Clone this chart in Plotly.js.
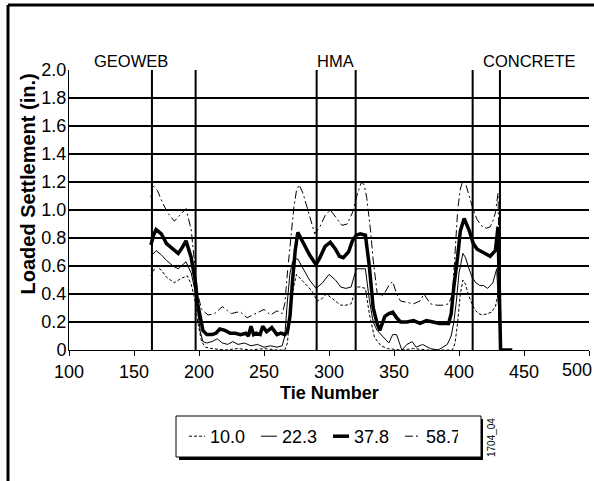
<!DOCTYPE html>
<html><head><meta charset="utf-8">
<script src="https://cdn.plot.ly/plotly-3.0.1.min.js"></script>
<style>html,body{margin:0;padding:0;background:#fff}#c{width:594px;height:481px}</style>
</head><body><div id="c"></div>
<script>
const seriesNames = ["10.0", "22.3", "37.8", "58.7"];
const tie10 = [163,167,171,175,181,186,191,194,197,199,202,205,210,220,230,240,250,260,266,268,270,272,275,279,283,287,291,295,298,302,306,309,313,317,321,324,328,331,335,340,345,355,365,375,385,392,395,397,399,401,403,405,407,410,412,415,418,422,425,428,430,432];
const val10 = [0.53,0.60,0.57,0.52,0.48,0.51,0.53,0.47,0.35,0.20,0.06,0.02,0.01,0.0,0.01,0.0,0.01,0.0,0.0,0.05,0.25,0.42,0.54,0.50,0.46,0.42,0.35,0.37,0.40,0.37,0.34,0.32,0.32,0.33,0.45,0.45,0.44,0.26,0.09,0.03,0.01,0.0,0.01,0.0,0.0,0.0,0.0,0.05,0.20,0.40,0.50,0.47,0.40,0.33,0.29,0.26,0.25,0.26,0.27,0.31,0.40,0.0];
const tie22 = [163,167,171,175,180,184,190,194,197,199,201,203,206,210,214,218,222,226,230,235,240,245,250,255,260,264,266,268,270,272,274,276,280,285,290,295,300,305,309,313,317,321,324,328,331,334,337,342,346,349,352,356,360,364,367,372,378,384,391,394,396,398,400,403,405,407,410,413,416,419,422,426,429,432];
const val22 = [0.67,0.71,0.68,0.64,0.60,0.58,0.63,0.55,0.42,0.28,0.13,0.06,0.05,0.06,0.08,0.05,0.04,0.06,0.04,0.05,0.03,0.04,0.02,0.03,0.02,0.03,0.10,0.35,0.55,0.63,0.65,0.65,0.58,0.50,0.44,0.48,0.54,0.50,0.45,0.44,0.45,0.58,0.58,0.58,0.36,0.20,0.14,0.09,0.05,0.11,0.11,0.00,0.04,0.06,0.02,0.04,0.01,0.00,0.04,0.10,0.20,0.35,0.55,0.69,0.66,0.60,0.52,0.48,0.46,0.46,0.44,0.48,0.58,0.0];
const tie37 = [163,165,167,171,175,180,184,187,190,194,197,199,201,203,206,210,213,216,220,224,228,232,236,238,240,242,244,247,249,252,256,258,260,263,266,268,270,272,274,276,280,285,290,293,297,301,305,308,311,315,318,321,324,328,331,334,337,339,341,343,346,349,352,355,360,365,370,375,380,385,390,392,394,396,399,401,404,406,408,411,414,418,422,424,426,428,430,432,434,438,441];
const val37 = [0.75,0.82,0.86,0.83,0.76,0.72,0.69,0.73,0.78,0.66,0.50,0.33,0.22,0.14,0.11,0.11,0.12,0.15,0.14,0.12,0.12,0.11,0.12,0.10,0.17,0.11,0.12,0.11,0.17,0.13,0.16,0.13,0.11,0.12,0.11,0.13,0.24,0.50,0.71,0.84,0.77,0.68,0.61,0.66,0.74,0.77,0.72,0.67,0.66,0.70,0.78,0.82,0.83,0.82,0.60,0.30,0.19,0.14,0.19,0.24,0.26,0.27,0.23,0.20,0.20,0.21,0.19,0.21,0.20,0.19,0.19,0.19,0.26,0.45,0.67,0.85,0.94,0.90,0.85,0.76,0.72,0.70,0.68,0.67,0.69,0.71,0.88,0.0,0.0,0.0,0.0];
const tie58 = [163,165,168,172,176,181,185,190,194,197,199,202,207,212,218,222,225,229,232,237,241,244,250,255,260,264,266,268,271,273,275,277,280,285,289,293,297,301,305,310,314,318,322,325,327,329,332,334,337,340,343,346,349,352,355,360,365,370,373,378,383,388,392,395,397,399,401,403,405,408,411,414,418,421,424,426,428,430,432];
const val58 = [1.09,1.17,1.14,1.05,0.98,0.92,0.96,1.01,0.86,0.60,0.40,0.29,0.25,0.26,0.31,0.28,0.26,0.27,0.27,0.23,0.25,0.26,0.29,0.25,0.28,0.26,0.33,0.55,0.81,1.02,1.14,1.18,1.12,0.95,0.83,0.88,0.96,1.00,0.95,0.89,0.90,0.98,1.12,1.20,1.18,1.09,0.85,0.64,0.41,0.38,0.41,0.46,0.49,0.40,0.35,0.34,0.33,0.35,0.40,0.33,0.32,0.32,0.33,0.40,0.70,1.00,1.15,1.21,1.19,1.10,1.00,0.93,0.88,0.87,0.88,0.92,0.98,1.12,0.0];
const sectionLines = [163.8, 197.4, 290.5, 320.5, 410.5, 431.5];
const sectionLabels = ["GEOWEB", "HMA", "CONCRETE"];
const sectionLabelX = [148, 305, 454];
const xTicks = [100,150,200,250,300,350,400,450,500];
const xTickText = ["100","150","200","250","300","350","400","450",""];
const lastXTickText = "500";
const yTicks = [0,0.2,0.4,0.6,0.8,1.0,1.2,1.4,1.6,1.8,2.0];
const yTickText = ["0","0.2","0.4","0.6","0.8","1.0","1.2","1.4","1.6","1.8","2.0"];

const FONT = "Liberation Sans, Arial, sans-serif";
// pixel helpers for paper coords (plot area 69..589 x, 70..350 y)
const PX = p => (p - 69) / 520;
const PY = p => (350 - p) / 280;

const traces = [
  {x: tie10, y: val10, name: seriesNames[0], mode: "lines", line: {color: "#000", width: 1, dash: "3px,2px"}},
  {x: tie22, y: val22, name: seriesNames[1], mode: "lines", line: {color: "#000", width: 1}},
  {x: tie37, y: val37, name: seriesNames[2], mode: "lines", line: {color: "#000", width: 3.5}},
  {x: tie58, y: val58, name: seriesNames[3], mode: "lines", line: {color: "#000", width: 1, dash: "8px,3px,2px,3px"}}
];

const shapes = sectionLines.map(v => ({type: "line", xref: "x", yref: "y", x0: v, x1: v, y0: 0, y1: 2, line: {color: "#000", width: 2}, layer: "above"}));
// outer frame (left and top)
shapes.push({type: "line", xref: "paper", yref: "paper", x0: PX(8), x1: PX(8), y0: PY(5), y1: PY(485), line: {color: "#000", width: 3}});
shapes.push({type: "line", xref: "paper", yref: "paper", x0: PX(8), x1: PX(600), y0: PY(5), y1: PY(5), line: {color: "#000", width: 3}});
// legend shadow + box
shapes.push({type: "rect", xref: "paper", yref: "paper", x0: PX(179), x1: PX(483), y0: PY(460), y1: PY(419), fillcolor: "#000", line: {width: 0}});
shapes.push({type: "rect", xref: "paper", yref: "paper", x0: PX(176), x1: PX(481), y0: PY(457), y1: PY(416), fillcolor: "#fff", line: {color: "#000", width: 1}});

const annotations = sectionLabels.map((t, i) => ({text: t, x: sectionLabelX[i], xref: "x", xanchor: "center", y: 1.0, yref: "paper", yanchor: "bottom", yshift: -2, showarrow: false, font: {size: 16.5, color: "#000", family: FONT}}));
annotations.push({text: lastXTickText, x: PX(577), xref: "paper", xanchor: "center", y: PY(370), yref: "paper", yanchor: "middle", showarrow: false, font: {size: 18, color: "#000", family: FONT}});
annotations.push({text: "<b>Tie Number</b>", x: PX(329), xref: "paper", xanchor: "center", y: PY(393), yref: "paper", yanchor: "middle", showarrow: false, font: {size: 18, color: "#000", family: FONT}});
annotations.push({text: "<b>Loaded Settlement (in.)</b>", textangle: -90, x: PX(27), xref: "paper", xanchor: "center", y: PY(72), yref: "paper", yanchor: "top", showarrow: false, font: {size: 20, color: "#000", family: FONT}});
annotations.push({text: "1704_04", textangle: -90, x: PX(491), xref: "paper", xanchor: "center", y: PY(438), yref: "paper", yanchor: "middle", showarrow: false, font: {size: 10, color: "#000", family: FONT}});

const layout = {
  width: 594, height: 481,
  margin: {l: 69, r: 5, t: 70, b: 131},
  paper_bgcolor: "#fff", plot_bgcolor: "#fff",
  font: {family: FONT, color: "#000", size: 18},
  showlegend: true,
  legend: {orientation: "h", x: PX(170), xanchor: "left", y: PY(436.5), yanchor: "middle", bgcolor: "rgba(0,0,0,0)", borderwidth: 0, font: {size: 18, family: FONT}, itemwidth: 30, entrywidth: 27, entrywidthmode: "pixels", traceorder: "normal"},
  xaxis: {range: [100, 500], tickvals: xTicks, ticktext: xTickText, ticks: "outside", ticklen: 5, tickwidth: 1, tickcolor: "#000", showline: true, linecolor: "#000", linewidth: 1, showgrid: false, zeroline: false, tickfont: {size: 18}},
  yaxis: {range: [0, 2], tickvals: yTicks, ticktext: yTickText, ticks: "", ticklabelstandoff: -2, showline: true, linecolor: "#000", linewidth: 1, showgrid: true, gridcolor: "#000", gridwidth: 1.5, zeroline: false, tickfont: {size: 18}},
  shapes: shapes,
  annotations: annotations
};
Plotly.newPlot("c", traces, layout, {displayModeBar: false, staticPlot: true}).then(gd => {
  // shorten legend line samples to match the reference's compact key
  gd.querySelectorAll(".legend .legendlines path").forEach(p => p.setAttribute("d", "M19,0h16"));
});
</script>
</body></html>
